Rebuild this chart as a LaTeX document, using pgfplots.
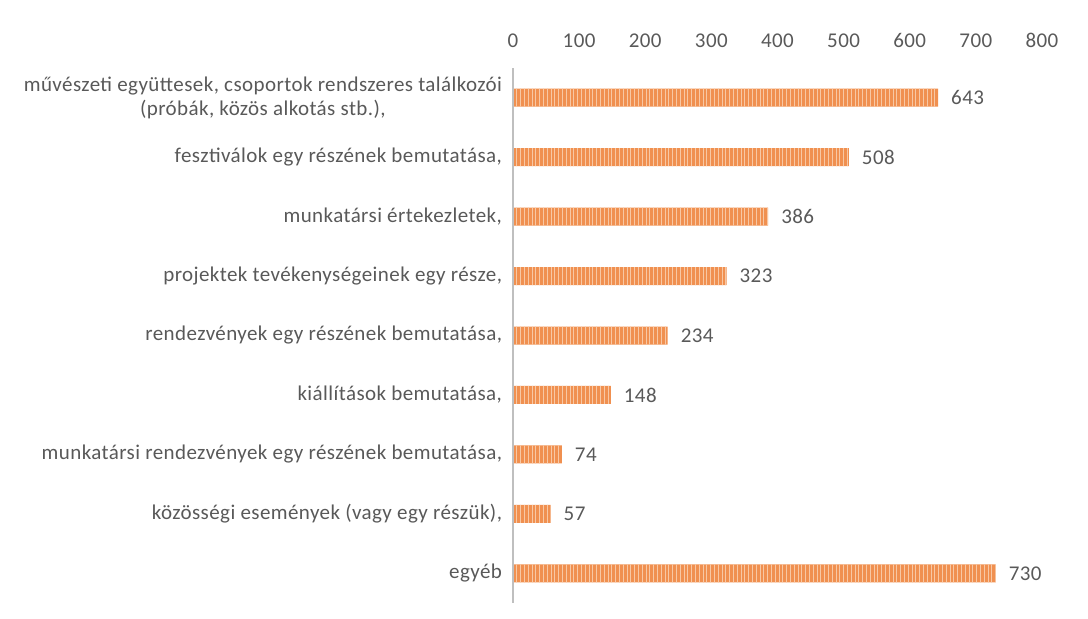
\documentclass[border=0pt]{standalone}
\usepackage{pgfplots}
\pgfplotsset{compat=1.18}
\usepackage{fontspec}
\setmainfont{Carlito}
\newfontfamily\lbl[LetterSpace=2]{Carlito}
\usetikzlibrary{patterns.meta}
\definecolor{barorange}{HTML}{ED7D31}
\definecolor{barlight}{HTML}{F8C8A4}
\definecolor{txtgray}{HTML}{595959}
\definecolor{axgray}{HTML}{BFBFBF}
\begin{document}
\begin{tikzpicture}
\path[use as bounding box] (-256.5pt,-8pt) rectangle (287.5pt,301.5pt);
\begin{axis}[
  at={(0,0)}, anchor=south west,
  scale only axis,
  width=264.5pt, height=267.5pt,
  xbar, bar width=9pt,
  xmin=0, xmax=800,
  xtick={0,100,...,800},
  ymin=-0.5, ymax=8.5,
  y dir=reverse,
  ytick={0,...,8},
  yticklabels={{művészeti együttesek, csoportok rendszeres találkozói\\(próbák, közös alkotás stb.),},
    {fesztiválok egy részének bemutatása,},
    {munkatársi értekezletek,},
    {projektek tevékenységeinek egy része,},
    {rendezvények egy részének bemutatása,},
    {kiállítások bemutatása,},
    {munkatársi rendezvények egy részének bemutatása,},
    {közösségi események (vagy egy részük),},
    {egyéb}},
  axis line style={draw=none},
  major tick length=0pt,
  xticklabel pos=upper,
  xticklabel style={font=\lbl\fontsize{10.5}{12}\selectfont, text=txtgray, yshift=6.5pt},
  yticklabel style={font=\lbl\fontsize{10.5}{12}\selectfont, text=txtgray, align=center, xshift=-2pt},
  /pgf/number format/assume math mode=true,
  nodes near coords,
  nodes near coords style={font=\lbl\fontsize{10.5}{12}\selectfont, text=txtgray, anchor=west, xshift=3pt},
  point meta=explicit symbolic,
  clip=false,
]
\addplot[draw=none, fill=barorange!85!white,
  postaction={pattern={Lines[angle=90,distance=1.9pt,line width=0.35pt]}, pattern color=barlight}]
  coordinates {(643,0)[643] (508,1)[508] (386,2)[386] (323,3)[323] (234,4)[234] (148,5)[148] (74,6)[74] (57,7)[57] (730,8)[730]};
\draw[axgray, line width=0.9pt] (axis cs:0,-0.5) -- (axis cs:0,8.5);
\end{axis}
\end{tikzpicture}
\end{document}
